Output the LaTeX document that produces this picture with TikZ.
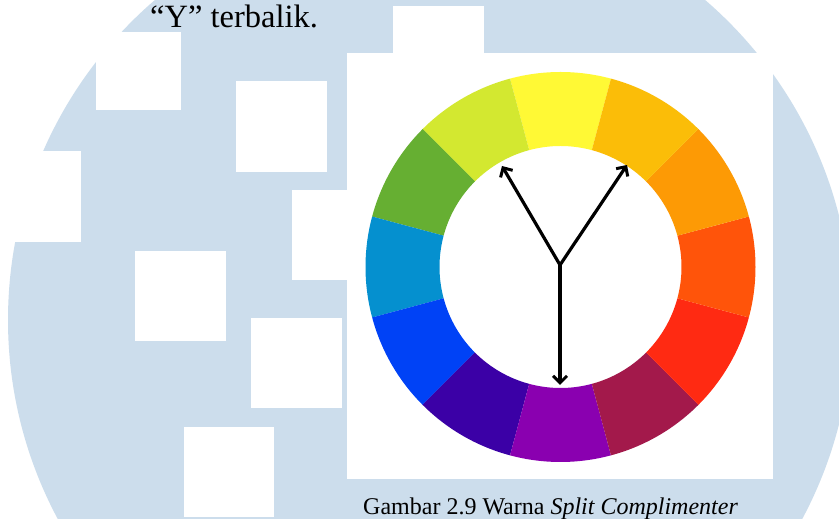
\documentclass[tikz,border=0pt]{standalone}
\usepackage{fontspec}
\setmainfont{Liberation Serif}
\usepackage{xcolor}
\usepackage{tikz}
\usetikzlibrary{arrows.meta}
\definecolor{UMWater}{HTML}{CCDDEC}
\definecolor{CWYellow}{HTML}{FFF935}
\definecolor{CWLime}{HTML}{D3E830}
\definecolor{CWGreen}{HTML}{66AF32}
\definecolor{CWCyan}{HTML}{0590CF}
\definecolor{CWBlue}{HTML}{0042F6}
\definecolor{CWIndigo}{HTML}{3B00A6}
\definecolor{CWViolet}{HTML}{8A00B0}
\definecolor{CWMaroon}{HTML}{A3194B}
\definecolor{CWRed}{HTML}{FF2A12}
\definecolor{CWRedOrange}{HTML}{FF540A}
\definecolor{CWOrange}{HTML}{FD9A05}
\definecolor{CWAmber}{HTML}{FBBD08}

\begin{document}
\begin{tikzpicture}[x=1pt,y=1pt,
  yarrow/.style={line width=3.2pt,-{Straight Barb[length=7pt,width=14pt,line width=3pt]}},
  ring/.style={shift={(560.5,252)}}]
\path[use as bounding box] (0,0) rectangle (839,519);
\begin{scope}
\clip (0,0) rectangle (839,519);
\fill[white] (0,0) rectangle (839,519);
% watermark
\fill[UMWater] (430,199) circle[radius=422];
\fill[white] (96,409) rectangle (181,487);
\fill[white] (236,347) rectangle (327,438);
\fill[white] (0,277) rectangle (81,368);
\fill[white] (393,422) rectangle (484,513);
\fill[white] (292,239) rectangle (383,329);
\fill[white] (135,178) rectangle (226,268);
\fill[white] (251,111) rectangle (342,201);
\fill[white] (184,2) rectangle (274,92);
\end{scope}
\node[anchor=base west,inner sep=0pt,font=\fontsize{32.5}{40}\selectfont] (title) at (150,491) {“Y” terbalik.};
% picture
\fill[white] (347,40) rectangle (773,466);
\fill[CWYellow,ring] (75:121) -- (75:195) arc[start angle=75,end angle=105,radius=195] -- (105:121) arc[start angle=105,end angle=75,radius=121] -- cycle;
\fill[CWLime,ring] (105:121) -- (105:195) arc[start angle=105,end angle=135,radius=195] -- (135:121) arc[start angle=135,end angle=105,radius=121] -- cycle;
\fill[CWGreen,ring] (135:121) -- (135:195) arc[start angle=135,end angle=165,radius=195] -- (165:121) arc[start angle=165,end angle=135,radius=121] -- cycle;
\fill[CWCyan,ring] (165:121) -- (165:195) arc[start angle=165,end angle=195,radius=195] -- (195:121) arc[start angle=195,end angle=165,radius=121] -- cycle;
\fill[CWBlue,ring] (195:121) -- (195:195) arc[start angle=195,end angle=225,radius=195] -- (225:121) arc[start angle=225,end angle=195,radius=121] -- cycle;
\fill[CWIndigo,ring] (225:121) -- (225:195) arc[start angle=225,end angle=255,radius=195] -- (255:121) arc[start angle=255,end angle=225,radius=121] -- cycle;
\fill[CWViolet,ring] (255:121) -- (255:195) arc[start angle=255,end angle=285,radius=195] -- (285:121) arc[start angle=285,end angle=255,radius=121] -- cycle;
\fill[CWMaroon,ring] (285:121) -- (285:195) arc[start angle=285,end angle=315,radius=195] -- (315:121) arc[start angle=315,end angle=285,radius=121] -- cycle;
\fill[CWRed,ring] (315:121) -- (315:195) arc[start angle=315,end angle=345,radius=195] -- (345:121) arc[start angle=345,end angle=315,radius=121] -- cycle;
\fill[CWRedOrange,ring] (-15:121) -- (-15:195) arc[start angle=-15,end angle=15,radius=195] -- (15:121) arc[start angle=15,end angle=-15,radius=121] -- cycle;
\fill[CWOrange,ring] (15:121) -- (15:195) arc[start angle=15,end angle=45,radius=195] -- (45:121) arc[start angle=45,end angle=15,radius=121] -- cycle;
\fill[CWAmber,ring] (45:121) -- (45:195) arc[start angle=45,end angle=75,radius=195] -- (75:121) arc[start angle=75,end angle=45,radius=121] -- cycle;
% Y arrows
\coordinate (hub) at (560,254);
\coordinate (tipL) at (502,353);
\coordinate (tipR) at (627,354);
\coordinate (tipD) at (560,134);
\draw[yarrow] (hub) -- (tipL);
\draw[yarrow] (hub) -- (tipR);
\draw[yarrow] (hub) -- (tipD);
\node[anchor=base west,inner sep=0pt,font=\fontsize{24}{29}\selectfont] (caption) at (363,4) {Gambar 2.9 Warna \textit{Split Complimenter}};
\end{tikzpicture}
\end{document}
